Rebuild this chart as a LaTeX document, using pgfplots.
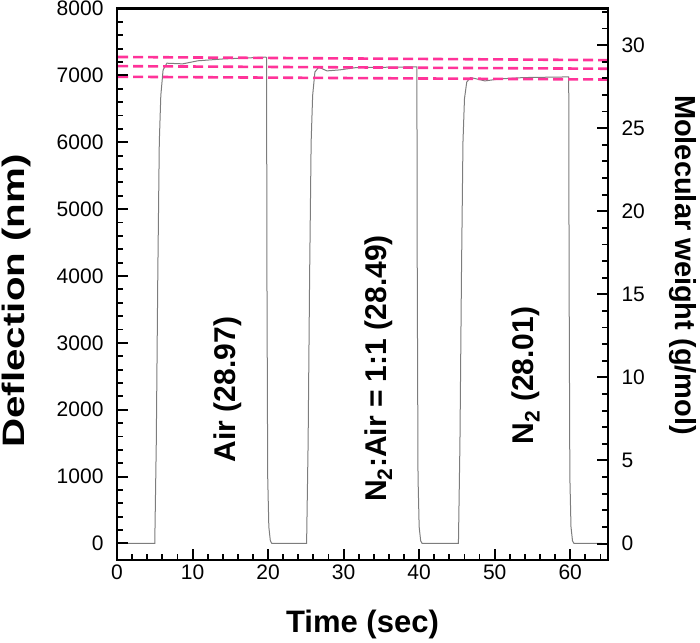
\documentclass[border=0pt]{standalone}
\usepackage{fontspec}
\setmainfont{Liberation Sans}
\newfontfamily\widesans{Liberation Sans}[FakeStretch=1.3]
\usepackage{pgfplots}
\pgfplotsset{compat=1.18}
\definecolor{curvegray}{RGB}{125,125,125}
\definecolor{dashpink}{RGB}{255,51,153}

\pgfdeclareplotmark{tkR}{\pgfpathmoveto{\pgfpointorigin}\pgfpathlineto{\pgfpoint{11pt}{0pt}}\pgfusepathqstroke}
\pgfdeclareplotmark{tkRm}{\pgfpathmoveto{\pgfpointorigin}\pgfpathlineto{\pgfpoint{6pt}{0pt}}\pgfusepathqstroke}
\pgfdeclareplotmark{tkL}{\pgfpathmoveto{\pgfpointorigin}\pgfpathlineto{\pgfpoint{-11pt}{0pt}}\pgfusepathqstroke}
\pgfdeclareplotmark{tkLm}{\pgfpathmoveto{\pgfpointorigin}\pgfpathlineto{\pgfpoint{-6pt}{0pt}}\pgfusepathqstroke}
\pgfdeclareplotmark{tkU}{\pgfpathmoveto{\pgfpointorigin}\pgfpathlineto{\pgfpoint{0pt}{11pt}}\pgfusepathqstroke}
\pgfdeclareplotmark{tkUm}{\pgfpathmoveto{\pgfpointorigin}\pgfpathlineto{\pgfpoint{0pt}{6pt}}\pgfusepathqstroke}

\pgfplotstableread{
x y
0.3 0
5.0 0
5.2 1500
5.4 4000
5.6 6000
5.8 6700
6.1 7080
6.6 7182
8.7 7172
10.7 7218
14.0 7245
19.6 7272
19.8 7270
19.85 4000
19.95 1000
20.1 250
20.3 40
20.5 0
25.1 0
25.3 1500
25.5 4000
25.7 6000
25.9 6700
26.2 7050
26.7 7122
27.8 7067
29.5 7082
31.7 7117
36.2 7122
39.7 7128
39.75 4000
39.85 1000
40.0 250
40.2 40
40.4 0
45.2 0
45.4 1500
45.6 4000
45.8 6000
46.0 6650
46.3 6900
46.8 6967
47.6 6947
48.7 6917
50.7 6947
53.8 6967
59.8 6977
59.85 4000
59.95 1000
60.1 250
60.3 40
60.5 0
64.2 0
}\deflection

\begin{document}
\begin{tikzpicture}
\begin{axis}[
  scale only axis, width=491pt, height=551.7pt,
  xmin=0, xmax=65,
  ymin=-250, ymax=8000,
  axis line style={line width=2.5pt},
  tick align=inside,
  major tick length=0pt, minor tick length=0pt,
  tick label style={font=\fontsize{21}{25}\selectfont},
  /pgf/number format/assume math mode=true,
  /pgf/number format/1000 sep={},
  label style={font=\bfseries\fontsize{31}{36}\selectfont},
  xtick={0,10,...,60},
  ytick={0,1000,...,8000},
  xtick pos=left, ytick pos=left,
  yticklabel style={xshift=-10pt},
  xticklabel style={yshift=-1pt},
  xlabel={Time (sec)}, ylabel={Deflection (nm)},
  xlabel style={at={(axis description cs:0.5,-0.116)}, anchor=center},
  ylabel style={at={(axis description cs:-0.205,0.47)}, anchor=center, font=\widesans\bfseries\fontsize{31}{36}\selectfont},
  clip=false,
]
\addplot[curvegray, line width=1pt] table[x=x,y=y] {\deflection};
\addplot[dashpink, line width=2.6pt, dash pattern=on 10pt off 5pt] coordinates {(0.15,7275) (65,7228)};
\addplot[dashpink, line width=2.6pt, dash pattern=on 10pt off 5pt] coordinates {(0.15,7138) (65,7099)};
\addplot[dashpink, line width=2.6pt, dash pattern=on 10pt off 5pt] coordinates {(0.15,6979) (65,6938)};
% inward tick marks on the left (Deflection) axis
\addplot[only marks, mark=tkR, mark options={black, line width=2pt}] coordinates {(0,0) (0,1000) (0,2000) (0,3000) (0,4000) (0,5000) (0,6000) (0,7000)};
\addplot[only marks, mark=tkRm, mark options={black, line width=1.8pt}] coordinates {
(0,200) (0,400) (0,600) (0,800) (0,1200) (0,1400) (0,1600) (0,1800)
(0,2200) (0,2400) (0,2600) (0,2800) (0,3200) (0,3400) (0,3600) (0,3800)
(0,4200) (0,4400) (0,4600) (0,4800) (0,5200) (0,5400) (0,5600) (0,5800)
(0,6200) (0,6400) (0,6600) (0,6800) (0,7200) (0,7400) (0,7600) (0,7800)};
% inward tick marks on the bottom (Time) axis
\addplot[only marks, mark=tkU, mark options={black, line width=2pt}] coordinates {(10,-250) (20,-250) (30,-250) (40,-250) (50,-250) (60,-250)};
\addplot[only marks, mark=tkUm, mark options={black, line width=1.8pt}] coordinates {
(2,-250) (4,-250) (6,-250) (8,-250) (12,-250) (14,-250) (16,-250) (18,-250)
(22,-250) (24,-250) (26,-250) (28,-250) (32,-250) (34,-250) (36,-250) (38,-250)
(42,-250) (44,-250) (46,-250) (48,-250) (52,-250) (54,-250) (56,-250) (58,-250)
(62,-250) (64,-250)};
\node[rotate=90, anchor=center, font=\bfseries\fontsize{30}{36}\selectfont] at (axis cs:14.6,2303) {Air (28.97)};
\node[rotate=90, anchor=center, font=\bfseries\fontsize{30}{36}\selectfont] at (axis cs:34.6,2617) {N\textsubscript{2}:Air = 1:1 (28.49)};
\node[rotate=90, anchor=center, font=\bfseries\fontsize{30}{36}\selectfont] at (axis cs:54.1,2512) {N\textsubscript{2} (28.01)};
\end{axis}
\begin{axis}[
  scale only axis, width=491pt, height=551.7pt,
  xmin=0, xmax=65,
  ymin=-1.0, ymax=32.2,
  axis line style={line width=2.5pt},
  tick align=inside,
  major tick length=0pt, minor tick length=0pt,
  tick label style={font=\fontsize{21}{25}\selectfont},
  /pgf/number format/assume math mode=true,
  axis y line*=right, axis x line=none,
  ytick={0,5,...,30},
  yticklabel style={xshift=10pt},
  ylabel={Molecular weight (g/mol)},
  ylabel style={at={(axis description cs:1.153,0.535)}, anchor=center, rotate=180, font=\bfseries\fontsize{29}{34}\selectfont},
  clip=false,
]
\addplot[only marks, mark=tkL, mark options={black, line width=2pt}] coordinates {(65,0) (65,5) (65,10) (65,15) (65,20) (65,25) (65,30)};
\addplot[only marks, mark=tkLm, mark options={black, line width=1.8pt}] coordinates {
(65,1) (65,2) (65,3) (65,4) (65,6) (65,7) (65,8) (65,9)
(65,11) (65,12) (65,13) (65,14) (65,16) (65,17) (65,18) (65,19)
(65,21) (65,22) (65,23) (65,24) (65,26) (65,27) (65,28) (65,29)
(65,31) (65,32)};
\end{axis}
\pgfresetboundingbox
\useasboundingbox ([shift={(-117pt,-82.3pt)}]current axis.south west) rectangle ([shift={(92pt,8.5pt)}]current axis.north east);
\end{tikzpicture}
\end{document}
